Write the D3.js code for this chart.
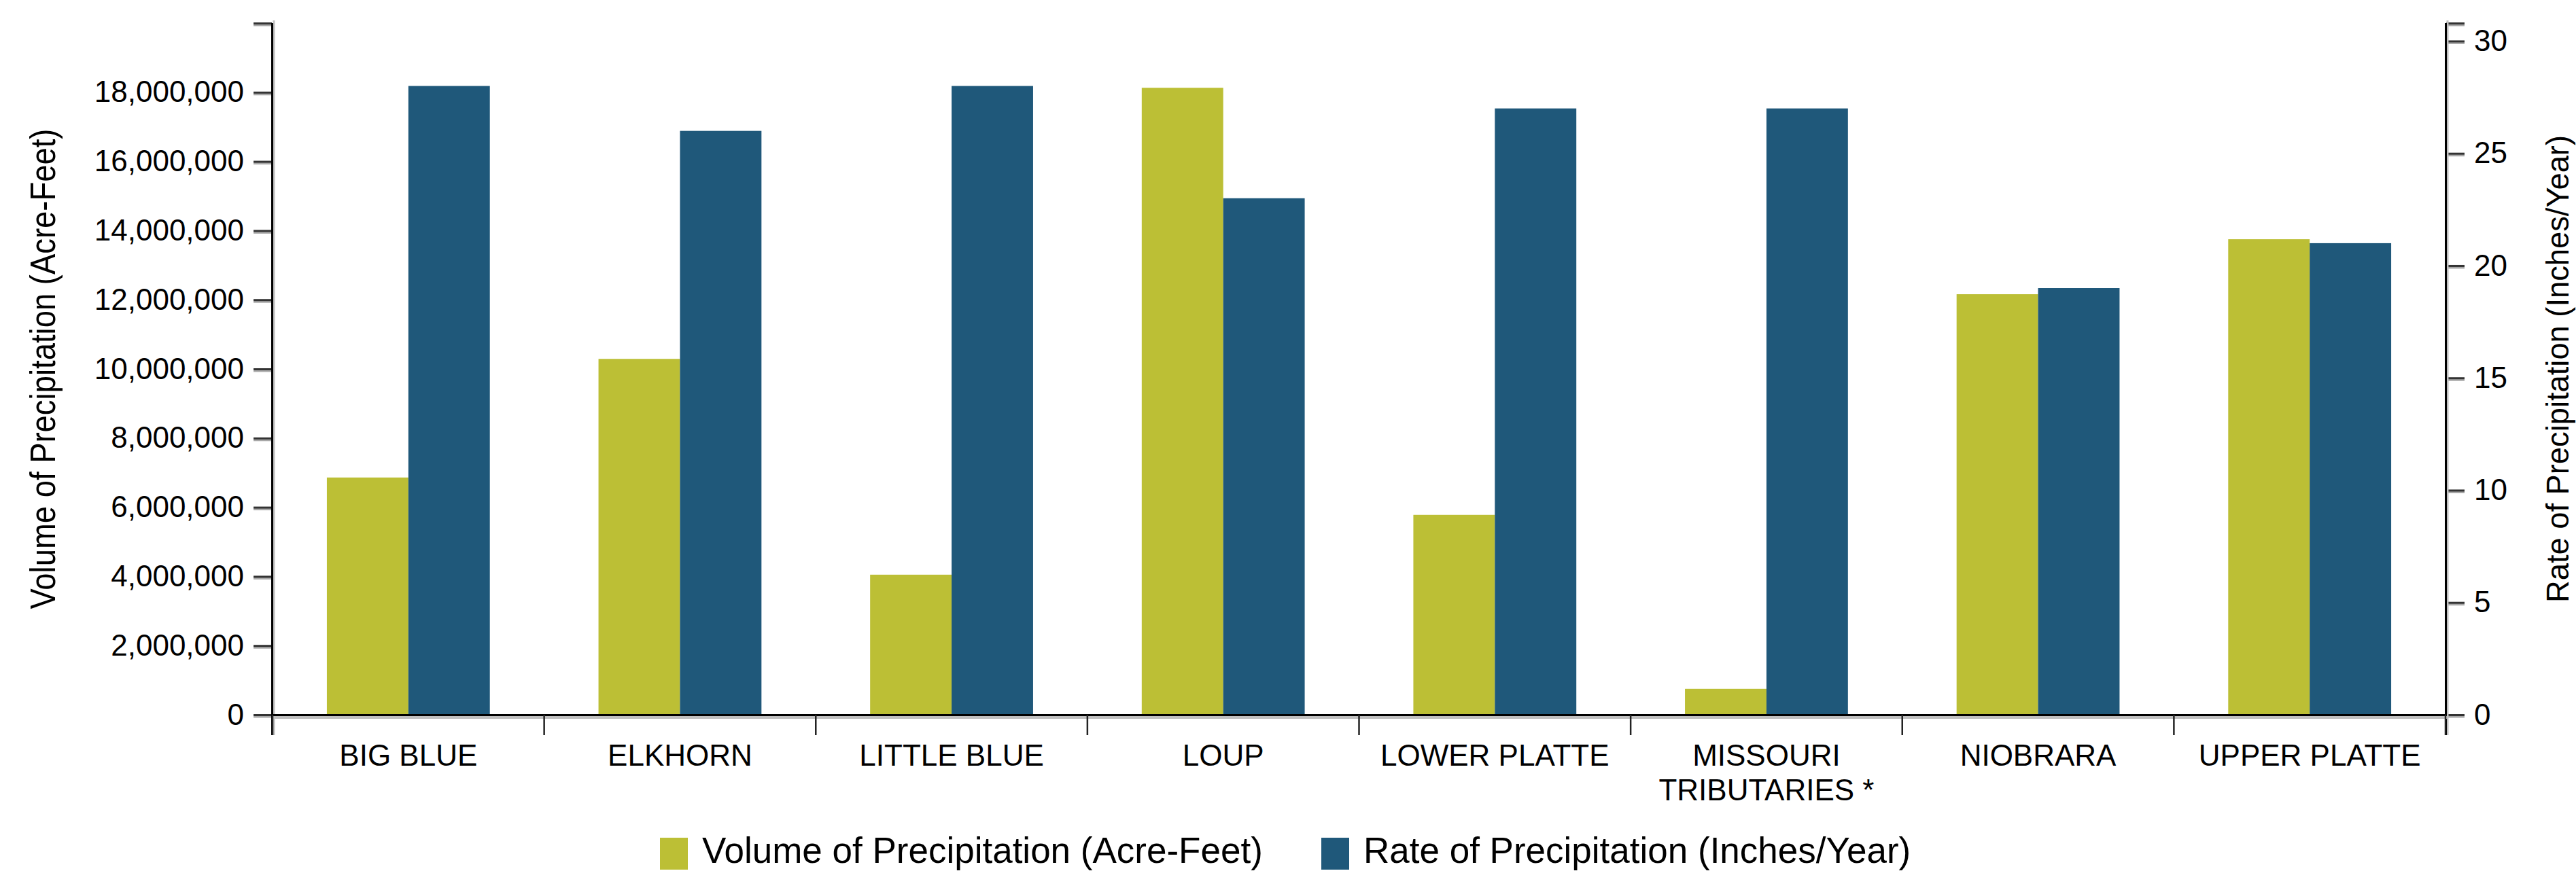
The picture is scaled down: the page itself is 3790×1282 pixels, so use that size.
<!DOCTYPE html>
<html><head><meta charset="utf-8">
<script src="https://cdn.jsdelivr.net/npm/d3@7/dist/d3.min.js"></script>
<style>
body{margin:0;background:#fff;}
svg{display:block;background:#fff;}
text{font-family:"Liberation Sans",Arial,Helvetica,sans-serif;fill:#000;}
</style>
</head><body>
<svg id="chart" width="3790" height="1282"></svg>
<script>
// ---- data ----
const categories = ["BIG BLUE","ELKHORN","LITTLE BLUE","LOUP","LOWER PLATTE","MISSOURI TRIBUTARIES *","NIOBRARA","UPPER PLATTE"];
const categoryLines = [["BIG BLUE"],["ELKHORN"],["LITTLE BLUE"],["LOUP"],["LOWER PLATTE"],["MISSOURI","TRIBUTARIES *"],["NIOBRARA"],["UPPER PLATTE"]];
const volumeValues = [6860000, 10290000, 4050000, 18130000, 5780000, 750000, 12160000, 13750000];
const rateValues = [28, 26, 28, 23, 27, 27, 19, 21];
const volumeTicks = [0, 2000000, 4000000, 6000000, 8000000, 10000000, 12000000, 14000000, 16000000, 18000000];
const rateTicks = [0, 5, 10, 15, 20, 25, 30];
const volumeMax = 20000000;
const rateMax = 30.8;
const seriesNames = ["Volume of Precipitation (Acre-Feet)", "Rate of Precipitation (Inches/Year)"];
const leftTitle = "Volume of Precipitation (Acre-Feet)";
const rightTitle = "Rate of Precipitation (Inches/Year)";
const colors = ["#BCBF35", "#1F587A"];

// ---- layout ----
const svg = d3.select("#chart");
const plotLeft = 401, plotRight = 3598, plotTop = 34, plotBottom = 1052;

const x = d3.scaleBand().domain(categories).range([plotLeft, plotRight]).paddingInner(0.4).paddingOuter(0.2);
const xSub = d3.scaleBand().domain([0, 1]).range([0, x.bandwidth()]);
const yL = d3.scaleLinear().domain([0, volumeMax]).range([plotBottom, plotTop]);
const yR = d3.scaleLinear().domain([0, rateMax]).range([plotBottom, plotTop]);
const step = x.step();
const outer = (x.range()[1] - x.range()[0] - step * categories.length) / 2;

// bars
const rows = categories.map((c, i) => ({c, v: [volumeValues[i], rateValues[i]]}));
const groups = svg.append("g").selectAll("g").data(rows).join("g")
  .attr("transform", d => `translate(${x(d.c)},0)`);
groups.append("rect")
  .attr("x", xSub(0)).attr("width", xSub.bandwidth())
  .attr("y", d => yL(d.v[0])).attr("height", d => plotBottom - yL(d.v[0]))
  .attr("fill", colors[0]);
groups.append("rect")
  .attr("x", xSub(1)).attr("width", xSub.bandwidth())
  .attr("y", d => yR(d.v[1])).attr("height", d => plotBottom - yR(d.v[1]))
  .attr("fill", colors[1]);

// ---- left axis ----
const gl = svg.append("g").attr("transform", `translate(${plotLeft - 1},0)`);
gl.append("g").selectAll("line").data(volumeTicks.concat([volumeMax])).join("line")
  .attr("x1", -27).attr("x2", 0)
  .attr("y1", d => yL(d) + 3).attr("y2", d => yL(d) + 3)
  .attr("stroke", "#a8a8a8").attr("stroke-width", 3);
const axL = d3.axisLeft(yL).tickValues(volumeTicks.concat([volumeMax])).tickSize(27).tickPadding(14)
  .tickFormat(d => d === volumeMax ? "" : d3.format(",")(d));
const gla = gl.append("g").call(axL);
gla.select(".domain").remove();
gla.selectAll(".tick line").attr("stroke", "#333").attr("stroke-width", 3);
gla.selectAll(".tick text").attr("font-size", 44).attr("fill", "#000")
  .attr("font-family", '"Liberation Sans",Arial,sans-serif');
svg.append("line").attr("x1", plotLeft + 2).attr("x2", plotLeft + 2).attr("y1", plotTop - 4).attr("y2", 1082)
  .attr("stroke", "#c0c0c0").attr("stroke-width", 3);
svg.append("line").attr("x1", plotLeft - 0.5).attr("x2", plotLeft - 0.5).attr("y1", plotTop).attr("y2", 1082)
  .attr("stroke", "#000").attr("stroke-width", 3);

// ---- right axis ----
const gr = svg.append("g").attr("transform", `translate(${plotRight + 1},0)`);
gr.append("g").selectAll("line").data(rateTicks.concat([rateMax])).join("line")
  .attr("x1", 0).attr("x2", 27)
  .attr("y1", d => yR(d) + 3).attr("y2", d => yR(d) + 3)
  .attr("stroke", "#a8a8a8").attr("stroke-width", 3);
const axR = d3.axisRight(yR).tickValues(rateTicks.concat([rateMax])).tickSize(27).tickPadding(14)
  .tickFormat(d => d === rateMax ? "" : d3.format("d")(d));
const gra = gr.append("g").call(axR);
gra.select(".domain").remove();
gra.selectAll(".tick line").attr("stroke", "#333").attr("stroke-width", 3);
gra.selectAll(".tick text").attr("font-size", 44).attr("fill", "#000")
  .attr("font-family", '"Liberation Sans",Arial,sans-serif');
svg.append("line").attr("x1", plotRight + 3).attr("x2", plotRight + 3).attr("y1", plotTop - 4).attr("y2", 1082)
  .attr("stroke", "#c0c0c0").attr("stroke-width", 3);
svg.append("line").attr("x1", plotRight + 0.5).attr("x2", plotRight + 0.5).attr("y1", plotTop).attr("y2", 1082)
  .attr("stroke", "#000").attr("stroke-width", 3);

// ---- bottom axis ----
svg.append("line").attr("x1", plotLeft).attr("x2", plotRight + 4).attr("y1", plotBottom + 4).attr("y2", plotBottom + 4)
  .attr("stroke", "#c0c0c0").attr("stroke-width", 4);
svg.append("line").attr("x1", plotLeft - 2).attr("x2", plotRight + 2).attr("y1", plotBottom + 0.5).attr("y2", plotBottom + 0.5)
  .attr("stroke", "#000").attr("stroke-width", 3);
const boundaries = d3.range(categories.length + 1).map(i => x.range()[0] + outer + i * step);
svg.append("g").selectAll("line").data(boundaries).join("line")
  .attr("x1", d => d).attr("x2", d => d).attr("y1", plotBottom).attr("y2", 1082)
  .attr("stroke", "#222").attr("stroke-width", 2.5);
const lab = svg.append("g").selectAll("text").data(categories).join("text")
  .attr("x", d => x(d) + x.bandwidth() / 2).attr("y", 1127)
  .attr("text-anchor", "middle").attr("font-size", 44);
lab.each(function(d, i) {
  d3.select(this).selectAll("tspan").data(categoryLines[i]).join("tspan")
    .attr("x", x(d) + x.bandwidth() / 2).attr("dy", (t, j) => j === 0 ? 0 : 51).text(t => t);
});

// ---- axis titles ----
svg.append("text").attr("transform", `translate(81,${(plotTop + plotBottom) / 2}) rotate(-90)`)
  .attr("text-anchor", "middle").attr("font-size", 52)
  .attr("textLength", 707).attr("lengthAdjust", "spacingAndGlyphs").text(leftTitle);
svg.append("text").attr("transform", `translate(3779,${(plotTop + plotBottom) / 2}) rotate(-90)`)
  .attr("text-anchor", "middle").attr("font-size", 46)
  .attr("textLength", 688).attr("lengthAdjust", "spacingAndGlyphs").text(rightTitle);

// ---- legend ----
const legendX = [971, 1944];
const lg = svg.append("g").selectAll("g").data(seriesNames).join("g")
  .attr("transform", (d, i) => `translate(${legendX[i]},1233)`);
lg.append("rect").attr("width", 41).attr("height", 47).attr("fill", (d, i) => colors[i]);
lg.append("text").attr("x", 62).attr("y", 37).attr("font-size", 53).text(d => d);
</script>
</body></html>
